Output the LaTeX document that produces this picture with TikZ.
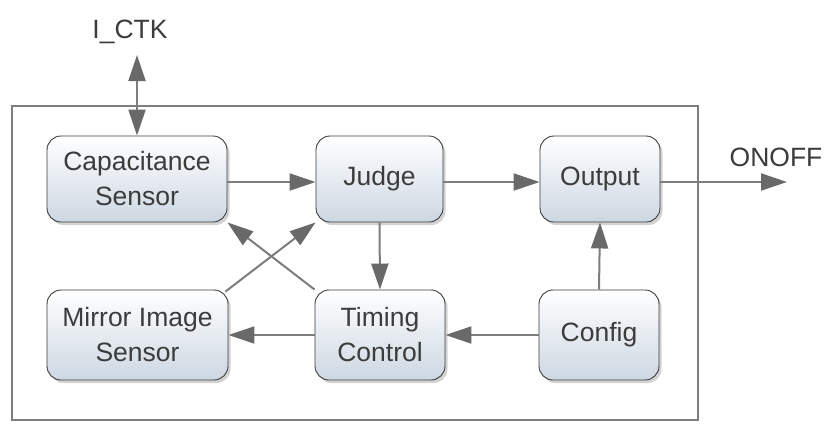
\documentclass[tikz,border=0pt]{standalone}
\usepackage{fontspec}
\setmainfont{Liberation Sans}
\usetikzlibrary{arrows.meta,shadows}
\definecolor{txtgray}{RGB}{60,60,60}
\definecolor{linegray}{RGB}{125,125,125}
\definecolor{tipgray}{RGB}{105,105,105}
\definecolor{boxblue}{RGB}{205,215,226}
\tikzset{
  >={Triangle[length=26pt, width=17pt, color=tipgray, fill=tipgray]},
  block/.style={draw=txtgray, line width=0.9pt, rounded corners=14pt,
    top color=white, bottom color=boxblue, text=txtgray, align=center,
    font=\fontsize{26.5}{35}\selectfont, inner sep=0pt,
    drop shadow={shadow xshift=2.5pt, shadow yshift=-3pt, opacity=0.35}},
  flow/.style={draw=linegray, line width=2pt, ->},
  label/.style={text=txtgray, font=\fontsize{26.5}{35}\selectfont}
}
\begin{document}
\begin{tikzpicture}[x=1pt, y=-1pt]
      \useasboundingbox (0, 0) rectangle (826, 423);
      \fill[white] (0, 0) rectangle (826, 423);

      \draw[linegray, line width=1.6pt] (12, 106) rectangle (698, 420);

      \node[block, minimum width=180pt, minimum height=86pt] (cap) at (137, 179) {Capacitance\\Sensor};
      \node[block, minimum width=127pt, minimum height=86pt] (judge) at (379.5, 179) {Judge};
      \node[block, minimum width=120pt, minimum height=86pt] (output) at (600, 179) {Output};
      \node[block, minimum width=181pt, minimum height=90pt] (mirror) at (137.5, 335) {Mirror Image\\Sensor};
      \node[block, minimum width=130pt, minimum height=90pt] (timing) at (380, 335) {Timing\\Control};
      \node[block, minimum width=120pt, minimum height=90pt] (config) at (599, 335) {Config};

      \node[label] (ictk) at (130, 32) {I\_CTK};
      \node[label] (onofflabel) at (776, 157) {ONOFF};
      \coordinate (ctktop) at (137, 55);
      \coordinate (onoff) at (787, 182);

      % bus to the sensor pin
      \draw[flow, <->] (cap.north) -- (ctktop);

      \draw[flow] (cap.east |- 0, 182) -- (judge.west |- 0, 182);
      \draw[flow] (judge.east |- 0, 182) -- (output.west |- 0, 182);
      \draw[flow] (output.east |- 0, 182) -- (onoff);
      \draw[flow] (judge.south) -- (timing.north);
      \draw[flow] (config.north) -- (output.south);
      \draw[flow] (config.west) -- (timing.east);
      \draw[flow] (timing.west) -- (mirror.east);
      \draw[flow] (mirror.north east) ++(-3, 2) -- (judge.south west);
      \draw[flow] (timing.north west) -- (cap.south east);
    \end{tikzpicture}
\end{document}
